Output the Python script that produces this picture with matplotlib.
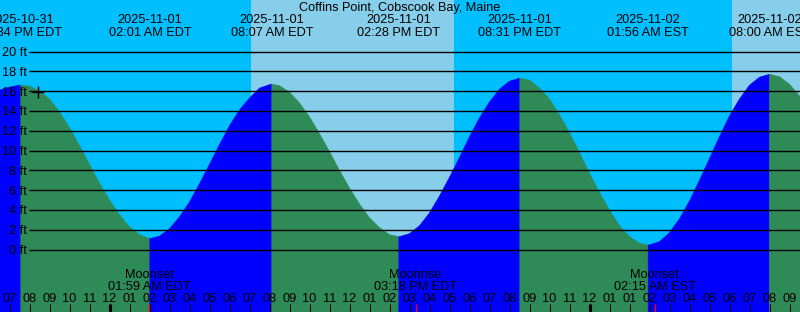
import numpy as np
import pandas as pd
from matplotlib import pyplot as plt

plt.rcParams['font.family'] = ['Liberation Sans', 'DejaVu Sans']

W, H = 800, 312

title = "Coffins Point, Cobscook Bay, Maine"

# time axis: hours after midnight 2025-11-01 EDT, read every half hour
hour_t = [-6 + 0.5 * i for i in range(83)]
tide_h = [15.6, 16.1, 16.4, 16.6, 16.5, 16.0, 15.2, 13.9, 12.3, 10.5,
          8.6, 6.7, 5.0, 3.5, 2.3, 1.5, 1.1, 1.35, 2.1, 3.3,
          4.8, 6.65, 8.6, 10.6, 12.5, 14.1, 15.3, 16.3, 16.65, 16.55,
          15.9, 14.8, 13.4, 11.7, 9.9, 8.0, 6.2, 4.6, 3.2, 2.2,
          1.5, 1.3, 1.6, 2.4, 3.7, 5.4, 7.3, 9.3, 11.4, 13.3,
          14.9, 16.2, 17.0, 17.3, 17.1, 16.3, 15.2, 13.6, 11.8, 9.8,
          7.7, 5.75, 4.0, 2.4, 1.3, 0.65, 0.46, 0.8, 1.7, 3.1,
          4.9, 7.0, 9.2, 11.4, 13.5, 15.2, 16.6, 17.4, 17.7, 17.45,
          16.7, 15.5, 13.9]

# high / low tides
ext_t = [-4.433, 2.017, 8.117, 14.467, 20.517, 26.933, 33.0]
ext_h = [16.6, 1.1, 16.7, 1.3, 17.3, 0.45, 17.7]
ext_date = ["2025-10-31", "2025-11-01", "2025-11-01", "2025-11-01",
            "2025-11-01", "2025-11-02", "2025-11-02"]
ext_time = ["07:34 PM EDT", "02:01 AM EDT", "08:07 AM EDT", "02:28 PM EDT",
            "08:31 PM EDT", "01:56 AM EST", "08:00 AM EST"]

# moon events
moon_t = [1.983, 15.3, 27.25]
moon_name = ["Moonset", "Moonrise", "Moonset"]
moon_time = ["01:59 AM EDT", "03:18 PM EDT", "02:15 AM EST"]

# daylight
sunrise_t = [7.06, 31.11]
sunset_t = [17.23]

# hour ticks
tick_t = list(range(-5, 35))
tick_labels = ["07", "08", "09", "10", "11", "12", "01", "02", "03", "04",
               "05", "06", "07", "08", "09", "10", "11", "12", "01", "02",
               "03", "04", "05", "06", "07", "08", "09", "10", "11", "12",
               "01", "01", "02", "03", "04", "05", "06", "07", "08", "09"]
midnight_t = [0, 24]

levels = list(range(0, 21, 2))
cross_t, cross_h = -3.6, 15.9

night_col = "#00BFFF"
day_col = "#87CEEB"
rise_col = "#0000FF"
fall_col = "#2E8B57"

# pixel mapping
x0, px_hr = 109.5, 20.0
y0, px_ft = 249.5, 9.9

fig = plt.figure(figsize=(W / 100, H / 100), dpi=100)
ax = fig.add_axes([0, 0, 1, 1])
ax.set_xlim(-x0 / px_hr, (W - x0) / px_hr)
ax.set_ylim((y0 - H) / px_ft, y0 / px_ft)
ax.axis('off')
fig.patch.set_facecolor(night_col)

left, right = ax.get_xlim()

# sky
ax.axvspan(left, right, color=night_col, lw=0, zorder=0)
ends = sunset_t + [right]
for a, b in zip(sunrise_t, ends):
    ax.axvspan(a, b, color=day_col, lw=0, zorder=0)

# tide curve, split at highs and lows
s = pd.concat([pd.Series(tide_h, index=hour_t), pd.Series(ext_h, index=ext_t)])
s = s[~s.index.duplicated(keep='last')].sort_index()
bounds = [s.index[0]] + ext_t + [s.index[-1]]
for a, b in zip(bounds[:-1], bounds[1:]):
    seg = s[(s.index >= a) & (s.index <= b)]
    col = rise_col if seg.iloc[-1] > seg.iloc[0] else fall_col
    ax.fill_between(seg.index, seg.values, -20, color=col, lw=0.4, zorder=1)

# level lines
ax.hlines(levels, (29 - x0) / px_hr, right, color='black', lw=1.0, zorder=2)
ax.plot(cross_t, cross_h, marker='+', ms=9, mew=1.0, color='black', zorder=3)

# ticks along the bottom
xt = ax.get_xaxis_transform()
ax.vlines(tick_t, 0, 8 / H, transform=xt, color='black', lw=0.72, zorder=3)
ax.vlines(midnight_t, 0, 8 / H, transform=xt, color='black', lw=2.2, zorder=3)
ax.vlines(moon_t, 0, 8 / H, transform=xt, color='red', lw=1.0, zorder=4)


def px(t):
    return (x0 + px_hr * t) / W


def txt(x, y, s, ha='center'):
    fig.text(x, 1 - y / H, s, ha=ha, va='baseline', fontsize=9.2, color='black')


txt(0.5, 10.7, title)
for t, d, tm in zip(ext_t, ext_date, ext_time):
    txt(px(t), 23.3, d)
    txt(px(t), 35.7, tm)

for lv in levels:
    txt(27 / W, y0 - px_ft * lv + 4.5, "%d ft" % lv, ha='right')

for t, n, tm in zip(moon_t, moon_name, moon_time):
    txt(px(t), 278.3, n)
    txt(px(t), 289.5, tm)

for t, lab in zip(tick_t, tick_labels):
    txt(px(t), 302, lab)

plt.savefig("out.png", dpi=100)
